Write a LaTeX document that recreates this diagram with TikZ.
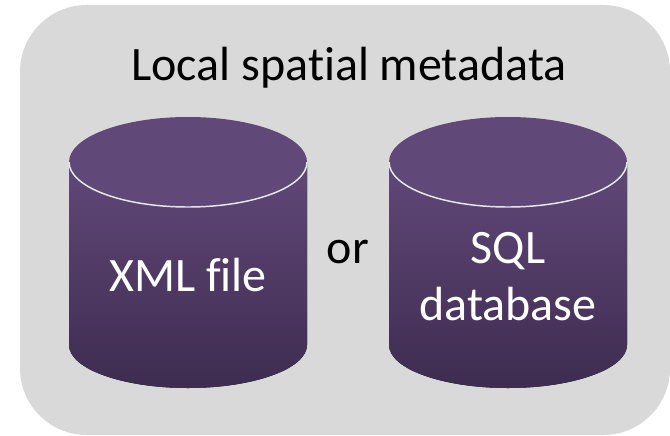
\documentclass[tikz,border=0pt]{standalone}
\usepackage{fontspec}
\setmainfont[Ligatures=NoCommon]{Carlito}
\definecolor{panel}{RGB}{217,217,217}
\definecolor{purpTop}{RGB}{96,72,120}
\definecolor{purpBot}{RGB}{62,44,80}
\tikzset{
  panelbox/.style={fill=panel,rounded corners=50pt,draw=none},
  whitetxt/.style={font=\fontsize{36}{43}\selectfont,text=white,align=center,inner sep=0pt,anchor=base},
  blacktxt/.style={font=\fontsize{36}{43}\selectfont,text=black,align=center,inner sep=0pt,anchor=base},
  cylbody/.style={top color=purpTop,bottom color=purpBot,draw=none},
  cyltop/.style={fill=purpTop,draw=none},
  cylrim/.style={draw=panel!60!white,line width=1.1pt}
}
\newcommand{\cyl}[1]{%
  \fill[cylbody] (#1-119,-162) -- (#1-119,-345) arc[start angle=180,end angle=360,x radius=119,y radius=43] -- (#1+119,-162) -- cycle;
  \fill[cyltop] (#1,-162) ellipse[x radius=119,y radius=45];
  \draw[cylrim] (#1-119,-162) arc[start angle=180,end angle=360,x radius=119,y radius=45];
}
\begin{document}
\begin{tikzpicture}[x=0.75pt,y=0.75pt]
\useasboundingbox (0,0) rectangle (670,-435);
\fill[white] (0,0) rectangle (670,-435);
\fill[panelbox] (20,-5) rectangle (670,-435);
\cyl{188}
\cyl{508}
\node[blacktxt] (title) at (349,-80) {Local spatial metadata};
\node[whitetxt] (xml) at (188,-291) {XML file};
\node[whitetxt] (sqla) at (508,-263) {SQL};
\node[whitetxt] (sqlb) at (508,-320) {database};
\node[blacktxt] (or) at (348,-263) {or};
\end{tikzpicture}
\end{document}
